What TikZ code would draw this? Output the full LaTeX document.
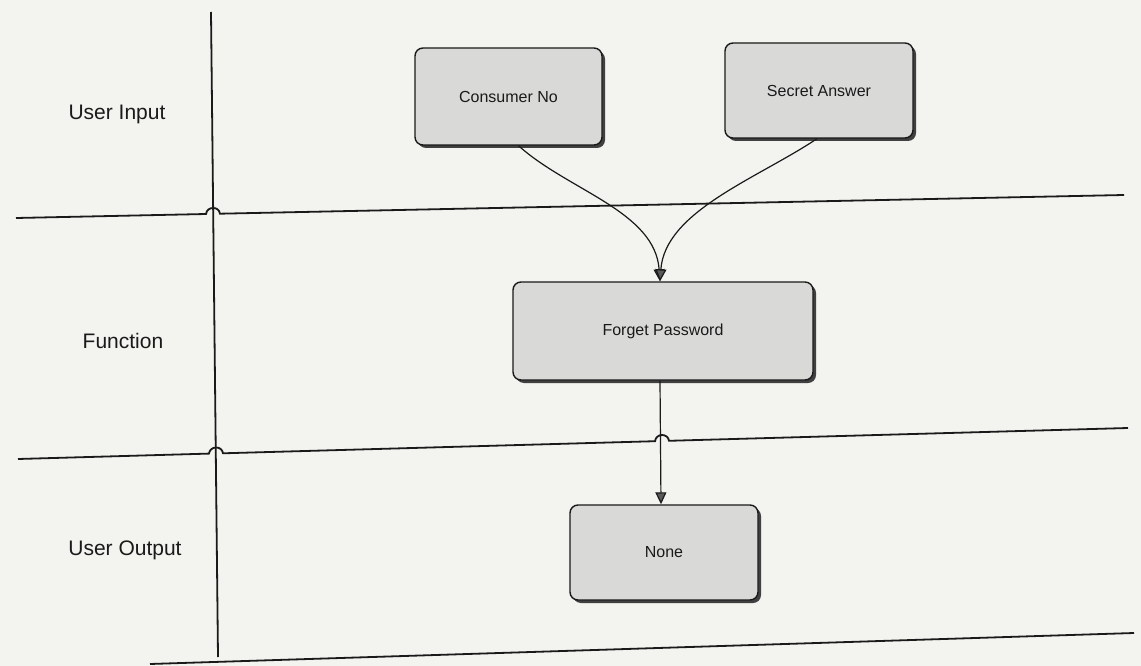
\documentclass[tikz,border=0pt]{standalone}
\usepackage{fontspec}
\setmainfont{Liberation Sans}
\usetikzlibrary{arrows.meta,shadows}
\definecolor{bg}{HTML}{F3F3F0}
\definecolor{boxgray}{HTML}{D9D9D7}
\definecolor{ink}{HTML}{1A1A1A}
\tikzset{
  lane/.style={draw=ink, line width=1.8pt},
  lanelabel/.style={font=\fontsize{21}{24}\selectfont, text=ink},
  actbox/.style={draw=ink, fill=boxgray, line width=1.4pt, rounded corners=8pt,
    font=\fontsize{16}{19}\selectfont, text=ink,
    drop shadow={shadow xshift=3pt, shadow yshift=-3pt, fill=black!75, opacity=1}},
  flow/.style={draw=ink, line width=1.2pt, -{Triangle[length=12pt,width=11pt,fill=black!65]}}
}
\begin{document}
\begin{tikzpicture}[x=1pt,y=-1pt]
\path[fill=bg] (0,0) rectangle (1141,666);
% swimlane lines
\draw[lane] (211,12) -- (218,657);
\draw[lane] (16,218) -- (206,214.0) .. controls (207,206) and (219,206) .. (220,213.7) -- (1124,195);
\draw[lane] (18,459) -- (209,453.6) .. controls (210,445.6) and (222,445.4) .. (223,453.3)
  -- (655,441.2) .. controls (656,433) and (668,433) .. (669,440.8) -- (1128,428);
\draw[lane] (150,664) -- (1134,633);
% lane labels
\node[lanelabel] (lin) at (117,114) {User Input};
\node[lanelabel] (lfn) at (123,341) {Function};
\node[lanelabel] (lout) at (125,550) {User Output};
% boxes
\node[actbox, minimum width=187pt, minimum height=97pt] (cons) at (508.5,96.5) {Consumer No};
\node[actbox, minimum width=188pt, minimum height=95pt] (sec) at (819,90.5) {Secret Answer};
\node[actbox, minimum width=300pt, minimum height=98pt] (fp) at (663,331) {Forget Password};
\node[actbox, minimum width=188pt, minimum height=95pt] (none) at (664,552.5) {None};
\coordinate (fpin) at ([xshift=-3pt]fp.north);
\coordinate (fpout) at ([xshift=-3pt]fp.south);
\coordinate (nonein) at ([xshift=-3pt]none.north);
% flows
\draw[flow] ([xshift=10pt]cons.south) .. controls +(50,45) and +(-5,-70) .. (fpin);
\draw[flow] ([xshift=-2pt]sec.south) .. controls +(-60,40) and +(5,-70) .. (fpin);
\draw[flow] (fpout) -- (nonein);
\end{tikzpicture}
\end{document}
